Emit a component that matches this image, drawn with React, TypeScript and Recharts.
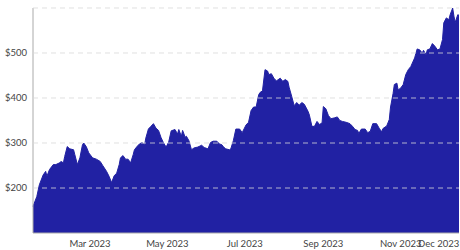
import React from 'react'
import { AreaChart, Area, XAxis, YAxis, CartesianGrid } from 'recharts'

// price readings, 2023
const dates = [
  '2023-01-15', '2023-01-18', '2023-01-20', '2023-01-23', '2023-01-25', '2023-01-26', '2023-01-28', '2023-01-31',
  '2023-02-02', '2023-02-05', '2023-02-06', '2023-02-08', '2023-02-09', '2023-02-11', '2023-02-13', '2023-02-16',
  '2023-02-17', '2023-02-19', '2023-02-21', '2023-02-23', '2023-02-24', '2023-02-26', '2023-02-28',
  '2023-03-03', '2023-03-06', '2023-03-09', '2023-03-11', '2023-03-14', '2023-03-16', '2023-03-18', '2023-03-20',
  '2023-03-22', '2023-03-24', '2023-03-25', '2023-03-27', '2023-03-29', '2023-03-31',
  '2023-04-02', '2023-04-04', '2023-04-05', '2023-04-07', '2023-04-09', '2023-04-11', '2023-04-13', '2023-04-14',
  '2023-04-16', '2023-04-18', '2023-04-20', '2023-04-22', '2023-04-24', '2023-04-26', '2023-04-28', '2023-04-30',
  '2023-05-02', '2023-05-04', '2023-05-07', '2023-05-09', '2023-05-10', '2023-05-12', '2023-05-13', '2023-05-15',
  '2023-05-16', '2023-05-18', '2023-05-20', '2023-05-22', '2023-05-25', '2023-05-28', '2023-05-30',
  '2023-06-02', '2023-06-04', '2023-06-06', '2023-06-09', '2023-06-11', '2023-06-13', '2023-06-14', '2023-06-16',
  '2023-06-19', '2023-06-20', '2023-06-22', '2023-06-24', '2023-06-27', '2023-06-29',
  '2023-07-02', '2023-07-04', '2023-07-06', '2023-07-08', '2023-07-10', '2023-07-12', '2023-07-13', '2023-07-15',
  '2023-07-17', '2023-07-19', '2023-07-20', '2023-07-22', '2023-07-24', '2023-07-26', '2023-07-28', '2023-07-29',
  '2023-07-31',
  '2023-08-02', '2023-08-04', '2023-08-05', '2023-08-07', '2023-08-09', '2023-08-11', '2023-08-13', '2023-08-15',
  '2023-08-17', '2023-08-20', '2023-08-21', '2023-08-23', '2023-08-25', '2023-08-27', '2023-08-29', '2023-08-31',
  '2023-09-01', '2023-09-03', '2023-09-05', '2023-09-07', '2023-09-10', '2023-09-12', '2023-09-14', '2023-09-16',
  '2023-09-19', '2023-09-22', '2023-09-24', '2023-09-26', '2023-09-28', '2023-09-29',
  '2023-10-01', '2023-10-04', '2023-10-06', '2023-10-08', '2023-10-10', '2023-10-13', '2023-10-15', '2023-10-17',
  '2023-10-18', '2023-10-21', '2023-10-23', '2023-10-24', '2023-10-26', '2023-10-27', '2023-10-29', '2023-10-30',
  '2023-11-01', '2023-11-03', '2023-11-05', '2023-11-07', '2023-11-09', '2023-11-12', '2023-11-14', '2023-11-16',
  '2023-11-18', '2023-11-19', '2023-11-21', '2023-11-22', '2023-11-24', '2023-11-26', '2023-11-28', '2023-11-30',
  '2023-12-02', '2023-12-04', '2023-12-05', '2023-12-07', '2023-12-09', '2023-12-10', '2023-12-12', '2023-12-13',
  '2023-12-14', '2023-12-16', '2023-12-17',
]

const prices = [
  159, 181, 207, 229, 237, 226, 241, 252,
  252, 256, 259, 256, 270, 292, 287, 285,
  274, 252, 267, 296, 300, 292, 278,
  267, 264, 259, 250, 237, 226, 212, 227,
  233, 252, 267, 272, 264, 264,
  256, 274, 285, 292, 298, 301, 296, 311,
  331, 337, 343, 333, 328, 312, 300, 291,
  302, 327, 330, 320, 330, 315, 328, 313,
  315, 305, 285, 289, 291, 295, 290,
  287, 301, 304, 304, 298, 296, 292, 287,
  285, 287, 305, 331, 331, 323,
  340, 346, 372, 380, 380, 407, 412, 416,
  463, 460, 452, 454, 444, 438, 442, 444,
  437,
  441, 437, 424, 404, 383, 390, 384, 390,
  386, 370, 362, 337, 337, 348, 341, 345,
  381, 376, 361, 354, 356, 358, 350, 348,
  346, 343, 337, 330, 328, 321,
  331, 331, 323, 326, 343, 343, 333, 325,
  332, 338, 352, 380, 410, 430, 433, 418,
  422, 430, 452, 463, 470, 489, 509, 507,
  500, 506, 496, 507, 509, 521, 515, 507,
  509, 530, 567, 578, 574, 585, 600, 582,
  568, 585, 584,
]

const tickDates = ['2023-03-01', '2023-05-01', '2023-07-01', '2023-09-01', '2023-11-01', '2023-12-01']
const tickLabels = ['Mar 2023', 'May 2023', 'Jul 2023', 'Sep 2023', 'Nov 2023', 'Dec 2023']
const priceTicks = [100, 200, 300, 400, 500, 600]
const gridValues = [200, 300, 400, 500, 600]

const toTime = (d: string) => Date.parse(d + 'T00:00:00Z')

const data = dates.map((d, i) => ({ t: toTime(d), price: prices[i] }))
const xTicks = tickDates.map(toTime)

const formatX = (v: number) => {
  const i = xTicks.indexOf(v)
  return i >= 0 ? tickLabels[i] : ''
}
const formatY = (v: number) => (v === 100 || v === 600 ? '' : `$${v}`)

const axisFont = { fontSize: 9.5, fill: '#444', fontFamily: 'Lato, sans-serif' }

export default function App() {
  return (
    <div style={{ position: 'absolute', left: 0, top: 0, width: 460, height: 250, background: '#fff' }}>
      <AreaChart width={460} height={250} data={data} margin={{ top: 8, right: 1, left: 0, bottom: 0 }}>
        <XAxis
          dataKey="t"
          type="number"
          scale="time"
          domain={['dataMin', 'dataMax']}
          ticks={xTicks}
          interval={0}
          tickFormatter={formatX}
          tick={axisFont}
          tickLine={false}
          tickSize={7}
          tickMargin={0}
          height={17}
          stroke="#aaa"
        />
        <YAxis
          type="number"
          domain={[100, 600]}
          ticks={priceTicks}
          tickFormatter={formatY}
          tick={axisFont}
          tickLine={false}
          tickSize={6}
          tickMargin={0}
          width={33}
          stroke="#aaa"
          allowDataOverflow
        />
        <Area
          type="linear"
          dataKey="price"
          stroke="#2121a3"
          strokeWidth={1}
          fill="#2121a3"
          fillOpacity={1}
          isAnimationActive={false}
          dot={false}
          activeDot={false}
        />
        <CartesianGrid
          vertical={false}
          horizontalValues={gridValues}
          stroke="#d8d8d8"
          strokeOpacity={0.8}
          strokeDasharray="5 4"
          zIndex={500}
        />
      </AreaChart>
    </div>
  )
}
